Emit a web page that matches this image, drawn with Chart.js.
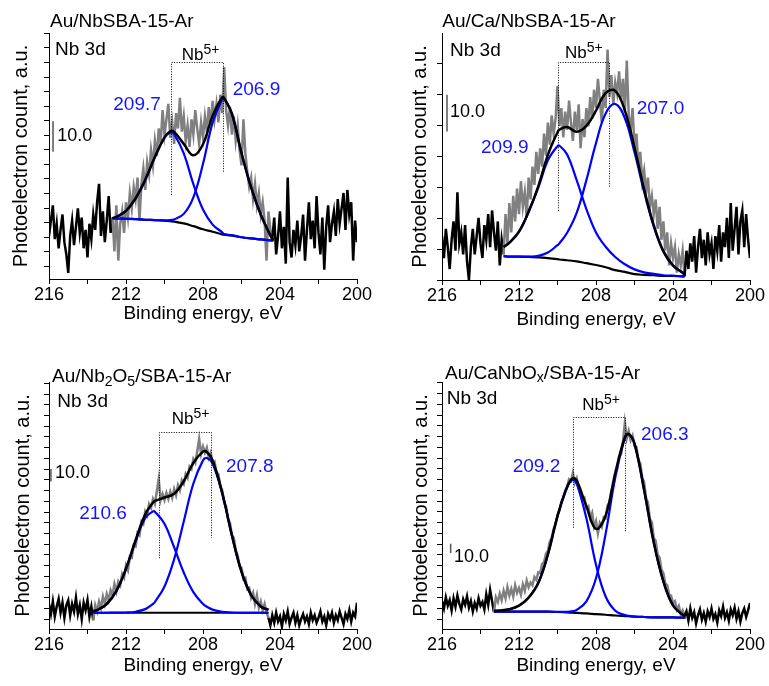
<!DOCTYPE html>
<html>
<head>
<meta charset="utf-8">
<title>Nb 3d XPS spectra</title>
<script src="https://cdn.jsdelivr.net/npm/chart.js@4.4.1/dist/chart.umd.min.js"></script>
<style>
  html, body { margin: 0; padding: 0; background: #fff; }
  #wrap { position: relative; width: 769px; height: 686px; overflow: hidden; }
  #wrap canvas { position: absolute; left: 0; top: 0; }
</style>
</head>
<body>
<div id="wrap">
  <canvas id="p1" width="769" height="686"></canvas>
  <canvas id="p2" width="769" height="686"></canvas>
  <canvas id="p3" width="769" height="686"></canvas>
  <canvas id="p4" width="769" height="686"></canvas>
</div>
<script>
// ---- scan grid: 216.0 -> 200.0 eV in 0.1 eV steps ----
const rawEnergy = Array.from({ length: 161 }, (_, i) => Math.round((216 - i * 0.1) * 10) / 10);

// x axis ticks (binding energy, eV)
const xTicks  = [200, 202, 204, 206, 208, 210, 212, 214, 216];
const xLabels = [200, 204, 208, 212, 216];

// length of the intensity scale bar
const scaleBarValue = 10.0;

// ---------- Au/NbSBA-15-Ar ----------
const counts1 = [
  14, 19, 24, 13, 18, 10, 16, 21, 12, 8,     // 216.0
  2, 14, 19, 11, 17, 23, 15, 20, 10, 16,     // 215.0
  7, 18, 13, 21, 16, 25, 31, 14, 22, 12,     // 214.0
  19, 27, 15, 20, 9, 24, 6, 18, 22, 15,      // 213.0
  25, 20, 28, 23, 30, 26, 33, 19, 31, 36,    // 212.0
  29, 38, 34, 42, 37, 45, 40, 49, 44, 55,    // 211.0
  47, 52, 57, 46, 51, 44, 54, 49, 59, 48,    // 210.0
  53, 45, 50, 43, 52, 47, 55, 49, 44, 51,    // 209.0
  46, 53, 48, 56, 50, 58, 52, 57, 51, 60,    // 208.0
  54, 69, 55, 50, 56, 47, 53, 45, 50, 42,    // 207.0
  37, 52, 41, 35, 30, 33, 26, 31, 24, 28,    // 206.0
  21, 25, 19, 6, 22, 16, 13, 20, 8, 14,      // 205.0
  22, 10, 17, 5, 33, 12, 7, 16, 11, 19,      // 204.0
  9, 14, 21, 6, 16, 25, 13, 19, 10, 27,      // 203.0
  15, 8, 20, 3, 17, 24, 12, 18, 22, 14,      // 202.0
  26, 18, 23, 28, 16, 29, 21, 25, 6, 19,     // 201.0
  12                                          // 200.0
];
const fitEnergy1  = [212.7, 212.5, 212.0, 211.5, 211.0, 210.5, 210.0, 209.7, 209.5, 209.0, 208.5, 208.0, 207.5, 207.0, 206.9, 206.5, 206.0, 205.5, 205.0, 204.5, 204.35];
const background1 = [19.8, 19.7, 19.6, 19.5, 19.3, 19.2, 19.0, 18.8, 18.7, 18.1, 17.2, 16.2, 15.4, 14.5, 14.4, 14.1, 13.6, 13.2, 12.9, 12.6, 12.5];
const peak32_1    = [19.8, 20.2, 22.2, 26.3, 32.3, 39.7, 46.0, 47.7, 47.2, 40.9, 30.9, 22.6, 17.7, 15.2, 14.6, 14.3, 13.6, 13.2, 12.9, 12.6, 12.5];
const peak52_1    = [19.8, 19.7, 19.6, 19.5, 19.3, 19.2, 19.1, 19.2, 19.4, 21.2, 26.6, 37.5, 50.9, 58.5, 58.7, 53.7, 41.0, 29.8, 21.0, 14.2, 12.5];
const envelope1   = [19.8, 20.2, 22.2, 26.3, 32.3, 39.7, 46.1, 48.1, 47.9, 44.0, 40.3, 43.9, 53.2, 59.2, 58.9, 53.9, 41.0, 29.8, 21.0, 14.2, 12.5];
const centers1    = [209.7, 206.9];
const bracket1    = [209.65, 206.95];   // dotted Nb5+ doublet marks
const bracketY1   = [70.5, 27.4, 34.5]; // top, left foot, right foot
const bar1        = [215.79, 41.4];     // energy, bar foot

// ---------- Au/Ca/NbSBA-15-Ar ----------
const counts2 = [
  12, 6, 14, 9, 3, 11, 16, 8, 24, 10,        // 216.0
  13, 7, 15, 5, 0, 9, 14, 7, 12, 17,         // 215.0
  10, 6, 15, 11, 18, 9, 19, 13, 8, 16,       // 214.0
  4, 11, 7, 18, 10, 21, 13, 23, 16, 25,      // 213.0
  18, 27, 20, 24, 17, 28, 22, 31, 26, 35,    // 212.0
  29, 36, 31, 40, 34, 43, 37, 45, 40, 44,    // 211.0
  53, 42, 47, 39, 46, 41, 49, 43, 38, 46,    // 210.0
  41, 48, 36, 44, 39, 47, 42, 50, 44, 52,    // 209.0
  47, 55, 49, 43, 52, 47, 63, 50, 56, 48,    // 208.0
  54, 51, 57, 49, 55, 46, 60, 45, 41, 47,    // 207.0
  36, 40, 31, 35, 27, 30, 24, 28, 20, 23,    // 206.0
  18, 22, 14, 20, 11, 16, 8, 13, 4, 10,      // 205.0
  6, 9, 2, 7, 4, 8, 1, 8, 3, 10,             // 204.0
  5, 12, 2, 9, 14, 6, 11, 4, 13, 7,          // 203.0
  10, 3, 12, 8, 15, 5, 13, 9, 17, 6,         // 202.0
  21, 8, 14, 20, 7, 16, 19, 9, 18, 11,       // 201.0
  6                                           // 200.0
];
const fitEnergy2  = [212.8, 212.5, 212.0, 211.5, 211.0, 210.5, 210.0, 209.9, 209.5, 209.0, 208.5, 208.0, 207.5, 207.0, 206.5, 206.0, 205.5, 205.0, 204.5, 204.0, 203.5, 203.4];
const background2 = [6.5, 6.4, 6.4, 6.3, 6.2, 6.0, 5.7, 5.6, 5.4, 5.1, 4.6, 4.1, 3.5, 2.7, 2.2, 1.6, 1.4, 1.3, 1.1, 1.1, 1.0, 1.0];
const peak32_2    = [9.0, 10.2, 13.2, 18.6, 25.2, 32.7, 36.6, 36.7, 34.3, 27.2, 19.4, 13.0, 9.1, 6.3, 4.3, 2.9, 2.1, 1.7, 1.3, 1.2, 1.0, 1.0];
const peak52_2    = [6.5, 6.4, 6.4, 6.4, 6.6, 7.5, 9.5, 10.0, 12.9, 18.4, 27.3, 37.4, 45.5, 48.1, 44.2, 34.9, 24.1, 14.6, 7.7, 3.9, 2.0, 1.5];
const envelope2   = [9.0, 10.2, 13.2, 18.7, 25.6, 34.2, 40.4, 41.1, 41.8, 40.5, 42.1, 46.3, 51.1, 51.7, 46.3, 36.2, 24.8, 15.0, 7.9, 4.0, 2.0, 1.5];
const centers2    = [209.9, 207.0];
const bracket2    = [210.0, 207.3];
const bracketY2   = [59.5, 18.9, 25.4];
const bar2        = [215.74, 40.6];

// ---------- Au/Nb2O5/SBA-15-Ar ----------
const counts3 = [
  20, 12, 22, 10, 18, 24, 13, 21, 9, 19,          // 216.0
  23, 11, 20, 14, 25, 12, 19, 8, 21, 15,          // 215.0
  23, 10, 18, 7, 19, 14, 22, 17, 26, 20,          // 214.0
  28, 23, 31, 27, 36, 30, 38, 35, 44, 41,         // 213.0
  51, 47, 58, 57, 67, 66, 77, 75, 86, 84,         // 212.0
  94, 91, 100, 97, 104, 100, 110, 120, 103, 108,  // 211.0
  103, 109, 104, 110, 105, 112, 107, 115, 111, 119, // 210.0
  116, 124, 121, 130, 128, 136, 133, 142, 152, 140, // 209.0
  146, 141, 145, 137, 141, 133, 134, 125, 124, 114, // 208.0
  111, 101, 98, 88, 85, 75, 73, 63, 59, 50,       // 207.0
  49, 40, 41, 32, 33, 25, 29, 20, 27, 17,         // 206.0
  22, 15, 20, 13, 9, 3, 11, 5, 13, 6,             // 205.0
  10, 2, 12, 7, 14, 4, 9, 13, 5, 11,              // 204.0
  3, 8, 12, 6, 10, 4, 13, 7, 11, 5,               // 203.0
  9, 14, 6, 10, 3, 12, 8, 13, 5, 11,              // 202.0
  7, 14, 9, 4, 12, 8, 15, 6, 13, 10,              // 201.0
  21                                               // 200.0
];
const fitEnergy3  = [213.7, 213.5, 213.0, 212.5, 212.0, 211.5, 211.0, 210.6, 210.5, 210.0, 209.5, 209.0, 208.5, 208.0, 207.8, 207.5, 207.0, 206.5, 206.0, 205.5, 205.0, 204.6];
const background3 = [13.0, 13.0, 13.0, 13.0, 13.0, 13.0, 13.0, 13.0, 13.0, 13.0, 13.0, 13.0, 13.0, 13.0, 13.0, 13.0, 13.0, 13.0, 13.0, 13.0, 13.0, 13.0];
const peak32_3    = [14.4, 15.2, 20.0, 30.4, 48.1, 70.4, 88.8, 94.1, 93.8, 84.2, 65.4, 45.2, 29.5, 20.0, 17.8, 15.5, 13.7, 13.2, 13.0, 13.0, 13.0, 13.0];
const peak52_3    = [13.0, 13.0, 13.0, 13.1, 13.2, 13.8, 15.9, 20.0, 21.6, 34.0, 55.8, 86.0, 116.4, 134.9, 136.8, 132.3, 108.2, 74.9, 45.8, 27.2, 18.0, 15.4];
const envelope3   = [14.4, 15.2, 20.0, 30.5, 48.3, 71.2, 91.7, 101.1, 102.4, 105.2, 108.2, 118.2, 132.9, 141.9, 141.6, 134.8, 108.9, 75.1, 45.8, 27.2, 18.0, 15.4];
const centers3    = [210.6, 207.8];
const bracket3    = [210.3, 207.6];
const bracketY3   = [157.8, 56.6, 73.0];
const bar3        = [215.9, 118.0];

// ---------- Au/CaNbOx/SBA-15-Ar ----------
const counts4 = [
  30, 22, 34, 25, 31, 20, 33, 24, 36, 27,          // 216.0
  21, 32, 26, 35, 23, 30, 19, 28, 22, 33,          // 215.0
  25, 29, 21, 37, 26, 42, 30, 18, 34, 29,          // 214.0
  38, 31, 41, 33, 45, 36, 43, 35, 47, 39,          // 213.0
  44, 37, 48, 41, 52, 45, 50, 47, 56, 53,          // 212.0
  61, 60, 70, 72, 81, 84, 94, 98, 108, 112,        // 211.0
  123, 127, 137, 141, 149, 153, 161, 159, 168, 157, // 210.0
  162, 151, 149, 139, 141, 130, 132, 120, 125, 110, // 209.0
  116, 103, 114, 110, 120, 119, 133, 136, 149, 154, // 208.0
  167, 172, 185, 188, 201, 222, 205, 213, 203, 208, // 207.0
  197, 196, 182, 178, 163, 158, 141, 136, 118, 115, // 206.0
  98, 95, 80, 77, 64, 60, 49, 47, 37, 36,          // 205.0
  28, 30, 21, 25, 16, 20, 14, 19, 9, 22,           // 204.0
  12, 18, 6, 15, 21, 10, 17, 8, 19, 13,            // 203.0
  22, 11, 16, 7, 20, 14, 24, 12, 18, 9,            // 202.0
  21, 15, 23, 11, 19, 8, 17, 22, 13, 20,           // 201.0
  28                                                // 200.0
];
const fitEnergy4  = [213.3, 213.0, 212.5, 212.0, 211.5, 211.0, 210.5, 210.0, 209.5, 209.2, 209.0, 208.5, 208.0, 207.5, 207.0, 206.5, 206.3, 206.0, 205.5, 205.0, 204.5, 204.0, 203.5, 203.35];
const background4 = [18.6, 18.6, 18.6, 18.6, 18.6, 18.6, 18.6, 18.3, 17.8, 17.5, 17.3, 16.8, 16.0, 15.3, 14.5, 13.9, 13.7, 13.3, 12.9, 12.6, 12.5, 12.4, 12.2, 12.2];
const peak32_4    = [19.5, 19.8, 21.2, 25.1, 33.7, 49.4, 80.1, 121.3, 152.2, 160.5, 156.4, 119.0, 69.2, 35.0, 19.7, 14.9, 14.1, 13.4, 12.9, 12.6, 12.5, 12.4, 12.2, 12.2];
const peak52_4    = [18.6, 18.6, 18.6, 18.6, 18.6, 18.6, 18.6, 18.4, 18.4, 19.2, 20.5, 29.7, 54.5, 102.3, 163.0, 205.2, 209.3, 199.3, 149.5, 93.2, 51.2, 25.3, 15.4, 13.8];
const envelope4   = [19.5, 19.8, 21.2, 25.1, 33.7, 49.4, 80.1, 121.4, 152.8, 162.2, 159.6, 131.9, 107.7, 122.0, 167.7, 206.2, 209.7, 199.4, 149.5, 93.2, 51.2, 25.3, 15.4, 13.8];
const centers4    = [209.2, 206.3];
const bracket4    = [209.2, 206.5];
const bracketY4   = [228.3, 108.9, 103.5];
const bar4        = [215.55, 81.7];

// ---------- drawing ----------
const FONT  = '"Liberation Sans", Arial, Helvetica, sans-serif';
const GREY  = '#808080';
const BLUE  = '#0000ff';
const BLUE_TEXT = '#1414ff';

function tickRun(start, step, max) {
  const t = [];
  for (let v = start; v <= max + 1e-9; v += step) t.push(v);
  return t;
}
const pts = (xs, ys) => xs.map((x, i) => ({ x, y: ys[i] }));

function drawRich(ctx, x, y, parts, color) {
  let cx = x;
  ctx.fillStyle = color;
  for (const p of parts) {
    ctx.font = p.size + 'px ' + FONT;
    ctx.fillText(p.t, cx, y + (p.dy || 0));
    cx += ctx.measureText(p.t).width;
  }
}

const panels = [
  {
    id: 'p1', counts: counts1, fitE: fitEnergy1, bg: background1, d32: peak32_1, d52: peak52_1, env: envelope1,
    centers: centers1, bracket: bracket1, bracketY: bracketY1, bar: bar1,
    yMax: 80.1, yTicks: tickRun(4.14, 4.74, 80.1),
    pad: { left: 0, top: 33, right: 412, bottom: 360.6 }, yAxisW: 49, xAxisH: 46.4, yTitlePad: 9,
    title: [{ t: 'Au/NbSBA-15-Ar', size: 19 }],
    at: { title: [50, 21.7], nb3d: [55, 50], nb: [181.7, 55.5], peaks: [[113.3, 105], [232.7, 90]], bar: [57.3, 135.7] }
  },
  {
    id: 'p2', counts: counts2, fitE: fitEnergy2, bg: background2, d32: peak32_2, d52: peak52_2, env: envelope2,
    centers: centers2, bracket: bracket2, bracketY: bracketY2, bar: bar2,
    yMax: 67.5, yTicks: tickRun(0, 8.47, 67.5),
    pad: { left: 385, top: 33, right: 19, bottom: 354.6 }, yAxisW: 57, xAxisH: 51.4, yTitlePad: 23,
    title: [{ t: 'Au/Ca/NbSBA-15-Ar', size: 19 }],
    at: { title: [442.3, 21.7], nb3d: [450, 50.8], nb: [565, 53.3], peaks: [[481, 147.5], [636.7, 108.3]], bar: [450, 111.7] }
  },
  {
    id: 'p3', counts: counts3, fitE: fitEnergy3, bg: background3, d32: peak32_3, d52: peak52_3, env: envelope3,
    centers: centers3, bracket: bracket3, bracketY: bracketY3, bar: bar3,
    yMax: 197.6, yTicks: tickRun(7.8, 8.58, 197.6),
    pad: { left: 0, top: 382, right: 412, bottom: 8.6 }, yAxisW: 49, xAxisH: 48.4, yTitlePad: 11,
    title: [{ t: 'Au/Nb', size: 19 }, { t: '2', size: 14, dy: 5 }, { t: 'O', size: 19 }, { t: '5', size: 14, dy: 5 }, { t: '/SBA-15-Ar', size: 19 }],
    at: { title: [52, 377.2], nb3d: [57.3, 401.7], nb: [171.7, 419], peaks: [[79.3, 513.3], [226, 466.7]], bar: [55, 473.3] }
  },
  {
    id: 'p4', counts: counts4, fitE: fitEnergy4, bg: background4, d32: peak32_4, d52: peak52_4, env: envelope4,
    centers: centers4, bracket: bracket4, bracketY: bracketY4, bar: bar4,
    yMax: 265.6, yTicks: tickRun(10.4, 11.56, 265.6),
    pad: { left: 385, top: 382, right: 19, bottom: 8.6 }, yAxisW: 57, xAxisH: 48.4, yTitlePad: 24,
    title: [{ t: 'Au/CaNbO', size: 19 }, { t: 'x', size: 14, dy: 5 }, { t: '/SBA-15-Ar', size: 19 }],
    at: { title: [445, 373.3], nb3d: [446.7, 398.3], nb: [582.3, 405], peaks: [[512.7, 466.7], [641, 435]], bar: [454, 556.7] }
  }
];

function decorPlugin(p) {
  return {
    id: 'decor',
    afterDatasetsDraw(chart) {
      const { ctx } = chart;
      const xs = chart.scales.x, ys = chart.scales.y;
      ctx.save();
      ctx.textBaseline = 'middle';
      ctx.textAlign = 'left';

      // sample name and core level
      drawRich(ctx, p.at.title[0], p.at.title[1], p.title, '#000');
      drawRich(ctx, p.at.nb3d[0], p.at.nb3d[1], [{ t: 'Nb 3d', size: 19 }], '#000');
      drawRich(ctx, p.at.nb[0], p.at.nb[1], [{ t: 'Nb', size: 17 }, { t: '5+', size: 14, dy: -5 }], '#000');

      // dotted bracket joining the two Nb5+ components
      const xl = Math.round(xs.getPixelForValue(p.bracket[0])) + 0.5;
      const xr = Math.round(xs.getPixelForValue(p.bracket[1])) + 0.5;
      const yt = Math.round(ys.getPixelForValue(p.bracketY[0])) + 0.5;
      ctx.strokeStyle = '#000';
      ctx.lineWidth = 1;
      ctx.setLineDash([1, 1.5]);
      ctx.beginPath();
      ctx.moveTo(xl, ys.getPixelForValue(p.bracketY[1]));
      ctx.lineTo(xl, yt);
      ctx.lineTo(xr, yt);
      ctx.lineTo(xr, ys.getPixelForValue(p.bracketY[2]));
      ctx.stroke();
      ctx.setLineDash([]);

      // component positions
      p.centers.forEach((c, i) => {
        drawRich(ctx, p.at.peaks[i][0], p.at.peaks[i][1], [{ t: c.toFixed(1), size: 19 }], BLUE_TEXT);
      });

      // intensity scale bar
      const bx = xs.getPixelForValue(p.bar[0]);
      ctx.strokeStyle = '#555';
      ctx.lineWidth = 1.5;
      ctx.beginPath();
      ctx.moveTo(bx, ys.getPixelForValue(p.bar[1]));
      ctx.lineTo(bx, ys.getPixelForValue(p.bar[1] + scaleBarValue));
      ctx.stroke();
      drawRich(ctx, p.at.bar[0], p.at.bar[1], [{ t: scaleBarValue.toFixed(1), size: 18 }], '#000');
      ctx.restore();
    }
  };
}

function buildPanel(p) {
  const lo = Math.min(...p.fitE) - 1e-6, hi = Math.max(...p.fitE) + 1e-6;
  const inFit = e => e >= lo && e <= hi;
  const fitLine = (vals, color, order, width) => ({
    data: pts(p.fitE, vals), borderColor: color, borderWidth: width, tension: 0.4,
    pointRadius: 0, fill: false, order
  });
  const axisGrid = { display: true, drawOnChartArea: false, drawTicks: true, tickLength: 5, color: '#000', lineWidth: 1 };
  const axisBorder = { display: true, color: '#000', width: 1 };

  new Chart(document.getElementById(p.id), {
    type: 'line',
    data: {
      datasets: [
        {
          data: pts(rawEnergy, p.counts), borderColor: '#000', borderWidth: 2.5, tension: 0,
          pointRadius: 0, fill: false, order: 5,
          segment: { borderColor: c => (inFit(c.p0.parsed.x) && inFit(c.p1.parsed.x)) ? GREY : '#000' }
        },
        fitLine(p.bg, '#000', 4, 2.2),
        fitLine(p.d52, BLUE, 3, 2.2),
        fitLine(p.d32, BLUE, 2, 2.2),
        fitLine(p.env, '#000', 1, 2.5)
      ]
    },
    options: {
      responsive: false,
      animation: false,
      devicePixelRatio: 1,
      events: [],
      layout: { padding: p.pad },
      plugins: { legend: { display: false }, tooltip: { enabled: false } },
      scales: {
        x: {
          type: 'linear', min: 200, max: 216, reverse: true,
          afterBuildTicks: s => { s.ticks = xTicks.map(v => ({ value: v })); },
          afterFit: s => { s.height = p.xAxisH; },
          ticks: {
            autoSkip: false, maxRotation: 0, minRotation: 0, padding: 0, color: '#000',
            font: { family: FONT, size: 18 },
            callback: v => xLabels.includes(v) ? String(v) : ''
          },
          grid: axisGrid,
          border: axisBorder,
          title: { display: true, text: 'Binding energy, eV', color: '#000', font: { family: FONT, size: 19 }, padding: 0 }
        },
        y: {
          type: 'linear', min: 0, max: p.yMax,
          afterBuildTicks: s => { s.ticks = p.yTicks.map(v => ({ value: v })); },
          afterFit: s => { s.width = p.yAxisW; },
          ticks: { display: false },
          grid: axisGrid,
          border: axisBorder,
          title: { display: true, text: 'Photoelectron count, a.u.', color: '#000', font: { family: FONT, size: 20 }, padding: { top: p.yTitlePad, bottom: 0 } }
        }
      }
    },
    plugins: [decorPlugin(p)]
  });
}

panels.forEach(buildPanel);
</script>
</body>
</html>
